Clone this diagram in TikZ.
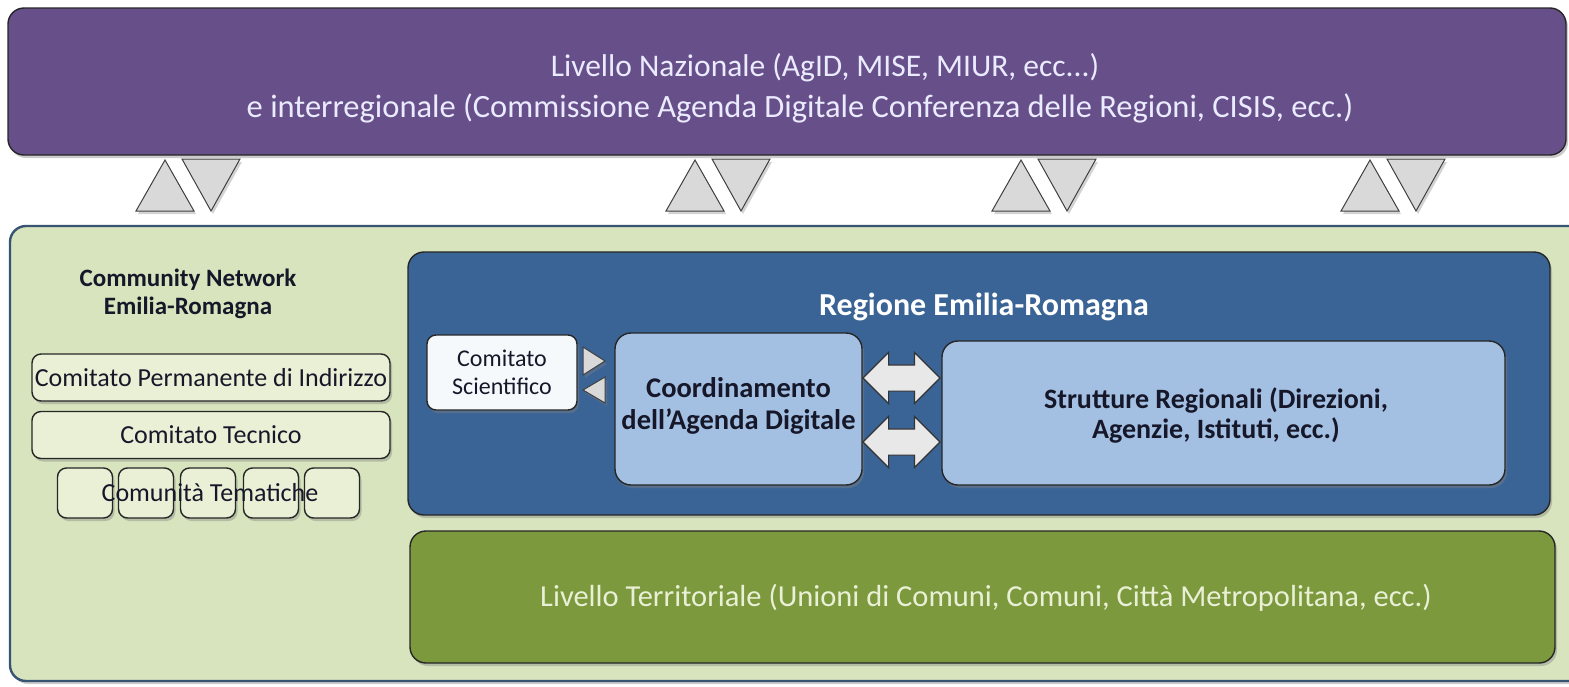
\documentclass[tikz,border=0pt]{standalone}
\usepackage{fontspec}
\setmainfont{Carlito}
\usetikzlibrary{shadows,shapes.arrows}

\definecolor{nazviola}{RGB}{103,80,138}
\definecolor{regblu}{RGB}{59,100,150}
\definecolor{celeste}{RGB}{163,191,226}
\definecolor{verdechiaro}{RGB}{215,228,189}
\definecolor{verdeolivo}{RGB}{124,153,62}
\definecolor{verdepallido}{RGB}{234,240,214}
\definecolor{grigio}{RGB}{217,217,217}
\definecolor{inchiostro}{RGB}{22,24,42}
\definecolor{bordoblu}{RGB}{55,85,115}

\newcommand\Frecce[2]{
  \draw[freccia] (#1,#2) -- (#1+29,#2+51) -- (#1-29,#2+51) -- cycle;
  \draw[freccia] (#1+17,#2-1) -- (#1+75,#2-1) -- (#1+46,#2+51) -- cycle;
}
\newcommand\Tematica[2]{
  \node[piccolo,minimum width=55pt,minimum height=50pt] (tema#2) at (#1,493) {};
}
\newcommand\Sottobox[4]{
  \node[piccolo,minimum width=358pt,minimum height=47pt] (#4) at (#1,#2) {};
  \node[font=\fontsize{26}{30}\selectfont,text=inchiostro] at (#1,#2) {#3};
}
\tikzstyle{box}=[rectangle,draw=black!85,line width=1.4pt,rounded corners=16pt,drop shadow={shadow xshift=2pt,shadow yshift=-3pt,opacity=0.4}]
\tikzstyle{piccolo}=[box,fill=verdepallido,rounded corners=9pt]
\tikzstyle{freccia}=[draw=black!75,line width=1pt,fill=grigio,line join=miter,drop shadow={shadow xshift=2pt,shadow yshift=-3pt,opacity=0.35}]
\tikzstyle{doppia}=[double arrow,draw=black!80,line width=1.2pt,fill=grigio!60!white,inner sep=12.5pt,double arrow head extend=12.5pt,minimum height=77pt,double arrow tip angle=90]

\begin{document}
\begin{tikzpicture}[x=1pt,y=-1pt,thick,font=\fontsize{24}{29}\selectfont]
  \useasboundingbox (0,0) rectangle (1569,686);

  \node[box,fill=nazviola,minimum width=1558pt,minimum height=147pt] (naz) at (787,81.5) {};
  \node[text=white!92!blue,font=\fontsize{31.5}{36}\selectfont] (naz1) at (825,68) {Livello Nazionale (AgID, MISE, MIUR, ecc...)};
  \node[text=white!92!blue,font=\fontsize{32.5}{36}\selectfont] (naz2) at (800,108) {e interregionale (Commissione Agenda Digitale Conferenza delle Regioni, CISIS, ecc.)};

  \Frecce{165}{160}
  \Frecce{695}{160}
  \Frecce{1021}{160}
  \Frecce{1370}{160}

  \node[box,fill=verdechiaro,draw=bordoblu,line width=2.4pt,minimum width=1590pt,minimum height=455pt] (er) at (805,453.5) {};

  \node[font=\bfseries\fontsize{25}{28}\selectfont,text=inchiostro,align=center] (cn) at (188,294) {Community Network\\Emilia-Romagna};
  \Sottobox{211}{377.5}{Comitato Permanente di Indirizzo}{cpi}
  \Sottobox{211}{435}{Comitato Tecnico}{ct}
  \Tematica{85}{1}
  \Tematica{146}{2}
  \Tematica{208}{3}
  \Tematica{271}{4}
  \Tematica{332}{5}
  \node[font=\fontsize{26}{30}\selectfont,text=inchiostro] (tem) at (210,493) {Comunità Tematiche};

  \node[box,fill=regblu,minimum width=1142pt,minimum height=263pt] (rer) at (979,383.5) {};
  \node[font=\bfseries\fontsize{32}{36}\selectfont,text=white] (rertit) at (984,307) {Regione Emilia-Romagna};

  \node[box,fill=white!90!celeste,rounded corners=9pt,minimum width=150pt,minimum height=75pt] (cs) at (502,372.5) {};
  \node[font=\fontsize{24}{28}\selectfont,text=inchiostro,align=center] at (cs) {Comitato\\Scientifico};
  \draw[freccia] (583,347) -- (605,361) -- (583,375) -- cycle;
  \draw[freccia] (605,377) -- (583,390) -- (605,403) -- cycle;

  \node[box,fill=celeste,minimum width=247pt,minimum height=152pt] (cad) at (738.5,409) {};
  \node[font=\bfseries\fontsize{28.5}{32}\selectfont,text=inchiostro,align=center] at (738.5,406) {Coordinamento\\dell’Agenda Digitale};

  \node[doppia] (da1) at (901.5,378) {};
  \node[doppia] (da2) at (901.5,442) {};

  \node[box,fill=celeste,minimum width=563pt,minimum height=144pt] (sr) at (1223.5,413) {};
  \node[font=\bfseries\fontsize{28}{30}\selectfont,text=inchiostro,align=center] at (1216,415) {Strutture Regionali (Direzioni,\\Agenzie, Istituti, ecc.)};

  \node[box,fill=verdeolivo,minimum width=1145pt,minimum height=132pt] (lt) at (982.5,597) {};
  \node[font=\fontsize{30.5}{34}\selectfont,text=verdepallido] at (986,598) {Livello Territoriale (Unioni di Comuni, Comuni, Città Metropolitana, ecc.)};
\end{tikzpicture}
\end{document}
